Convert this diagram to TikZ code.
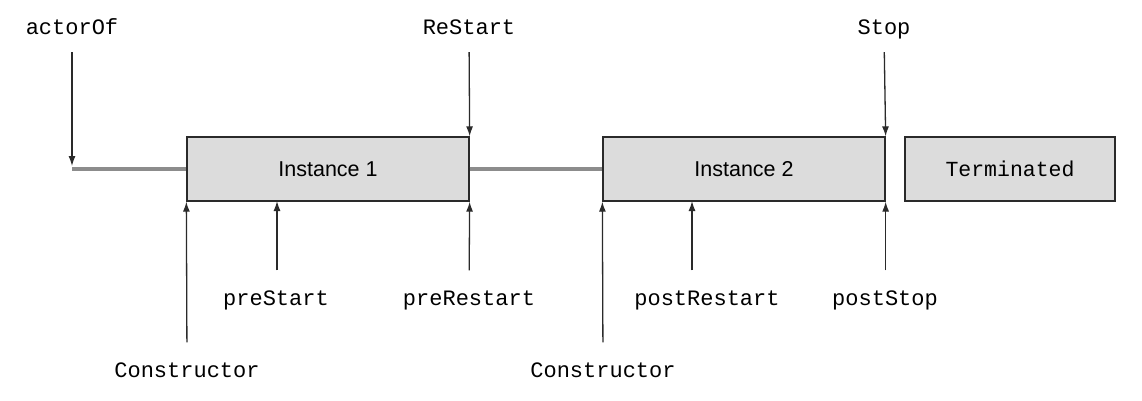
\documentclass[tikz,border=0pt]{standalone}
\usepackage{fontspec}
\setmainfont{Liberation Sans}
\setmonofont{Liberation Mono}
\usetikzlibrary{arrows.meta}
\definecolor{boxfill}{HTML}{DCDCDC}
\definecolor{boxdraw}{HTML}{2A2A2A}
\definecolor{linegray}{HTML}{8C8C8C}
\tikzset{
  state/.style={draw=boxdraw, fill=boxfill, line width=1.3pt, minimum height=64pt, inner sep=0pt, font=\fontsize{21.5}{21.5}\selectfont},
  lbl/.style={inner sep=0pt, text height=12.5pt, text depth=0pt, anchor=base, font=\fontsize{22}{22}\selectfont\ttfamily},
  arr/.style={draw=boxdraw, line width=1.3pt, -{Latex[length=10pt,width=7pt]}},
  lifeline/.style={draw=linegray, line width=4.5pt},
}
\begin{document}
\begin{tikzpicture}[x=1pt,y=-1pt]
\useasboundingbox (0,0) rectangle (1142,400);
% boxes
\node[state, minimum width=282pt] (i1) at (328,169) {Instance 1};
\node[state, minimum width=282pt] (i2) at (744,169) {Instance 2};
\node[state, minimum width=210pt, font=\fontsize{21.5}{21.5}\selectfont\ttfamily] (term) at (1010,169) {Terminated};
% lifeline
\coordinate (start) at (72,169);
\draw[lifeline] (start) -- (i1.west);
\draw[lifeline] (i1.east) -- (i2.west);
% top labels
\node[lbl] (actorOf) at (72,34) {actorOf};
\node[lbl] (restart) at (469,34) {ReStart};
\node[lbl] (stop) at (884,34) {Stop};
\draw[arr, shorten <=18pt, shorten >=3pt] (actorOf.south) -- (start);
\draw[arr, shorten <=18pt] (restart.south) -- (i1.north east);
\draw[arr, shorten <=18pt] (stop.south) -- (i2.north east);
% bottom labels
\node[lbl] (ctor1) at (187,377) {Constructor};
\node[lbl] (prestart) at (276,305) {preStart};
\node[lbl] (prerestart) at (469,305) {preRestart};
\node[lbl] (ctor2) at (603,377) {Constructor};
\node[lbl] (postrestart) at (707,305) {postRestart};
\node[lbl] (poststop) at (885,305) {postStop};
\coordinate (ps) at (277,201);
\coordinate (pr) at (692,201);
\draw[arr, shorten <=22pt] (ctor1.north) -- (i1.south west);
\draw[arr, shorten <=22pt] (prestart.north -| ps) -- (ps);
\draw[arr, shorten <=22pt] (prerestart.north) -- (i1.south east);
\draw[arr, shorten <=22pt] (ctor2.north) -- (i2.south west);
\draw[arr, shorten <=22pt] (postrestart.north -| pr) -- (pr);
\draw[arr, shorten <=22pt] (poststop.north -| i2.south east) -- (i2.south east);
\end{tikzpicture}
\end{document}
